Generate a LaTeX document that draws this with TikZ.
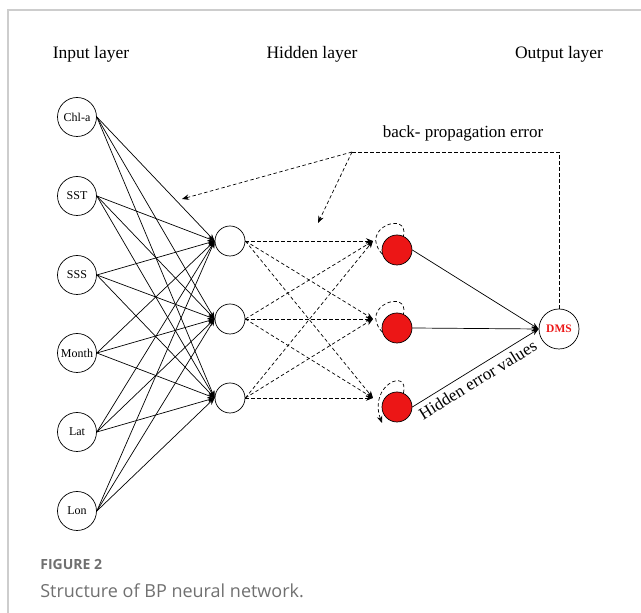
\documentclass[tikz,border=0pt]{standalone}
\usepackage{fontspec}
\setmainfont{Liberation Serif}
\newfontfamily\capfont{Open Sans}
\usetikzlibrary{arrows.meta,calc,positioning}
\definecolor{nodered}{RGB}{236,22,22}
\definecolor{capgray}{RGB}{112,112,112}
\definecolor{framegray}{RGB}{205,205,205}
\tikzset{
  inp/.style={draw,circle,minimum size=39pt,inner sep=0pt,font=\fontsize{12}{12}\selectfont},
  hid/.style={draw,circle,minimum size=30pt,inner sep=0pt},
  hidred/.style={hid,fill=nodered},
  outp/.style={draw,circle,minimum size=40pt,inner sep=0pt,text=nodered,font=\fontsize{11.5}{12}\selectfont\bfseries},
  layertitle/.style={anchor=base,font=\fontsize{17.5}{20}\selectfont},
  bp/.style={dash pattern=on 3.5pt off 2.5pt}
}

\begin{document}
\begin{tikzpicture}[x=1pt,y=1pt,>={Stealth[length=7pt,width=5.5pt]},line width=0.7pt]
  \useasboundingbox (0,0) rectangle (641,613);
  \draw[framegray,line width=1.2pt] (8,0) -- (8,603) -- (641,603);
  % layer titles
  \node[layertitle] (tin) at (91,554) {Input layer};
  \node[layertitle] (thid) at (312,554) {Hidden layer};
  \node[layertitle] (tout) at (559,554) {Output layer};
  % input layer
  \foreach \nm/\lab/\yy in {i1/Chl-a/496,i2/SST/417,i3/SSS/338,i4/Month/260,i5/Lat/181,i6/Lon/102}
    \node[inp] (\nm) at (77,\yy) {\lab};
  % hidden layer
  \foreach \k/\yy in {1/372,2/294,3/215} {
    \node[hid] (h\k) at (230,\yy) {};
    \node[hidred] (r\k) at (397,\yy-9) {};
    \coordinate (t\k) at (373,\yy);
  }
  % output layer
  \node[outp] (dms) at (559,284) {DMS};

  \foreach \i in {1,...,6}
    \foreach \k in {1,2,3}
      \draw[->] (i\i.east) -- (h\k.west);
  \foreach \j in {1,2,3}
    \foreach \k in {1,2,3}
      \draw[->,bp] (h\j.east) -- (t\k);
  \draw[->] (r1.east) -- (dms.west);
  \draw[->] (r2.east) -- (dms.west);
  \draw[->] (r3.east) -- node[sloped,below,pos=0.47,inner sep=5pt,font=\fontsize{17}{20}\selectfont] (hev) {Hidden error values} (dms.west);

  % self loops
  \draw[bp] (r1.195) .. controls +(-24,26) and +(6,26) .. (r1.65);
  \draw[bp] (r2.195) .. controls +(-24,26) and +(6,26) .. (r2.65);
  \coordinate (e3) at (382,190);
  \draw[->,bp] (r3.65) .. controls +(6,26) and +(-14,38) .. (e3);

  % back-propagation
  \coordinate (bpr) at (559,461);
  \coordinate (bpl) at (352,461);
  \coordinate (e1) at (182,414);
  \coordinate (e2) at (318,390);
  \draw[bp] (dms.north) -- (bpr) -- (bpl);
  \draw[->,bp] (bpl) -- (e1);
  \draw[->,bp] (bpl) -- (e2);
  \node[font=\fontsize{17}{20}\selectfont] (bplab) at (463,480) {back- propagation error};

  % caption
  \node[anchor=west,inner sep=0pt,text=capgray,font=\capfont\bfseries\fontsize{14}{16}\selectfont] (fig) at (40,48) {FIGURE 2};
  \node[anchor=west,inner sep=0pt,text=capgray,font=\capfont\fontsize{18}{20}\selectfont] (cap) at (40,22) {Structure of BP neural network.};
\end{tikzpicture}
\end{document}
